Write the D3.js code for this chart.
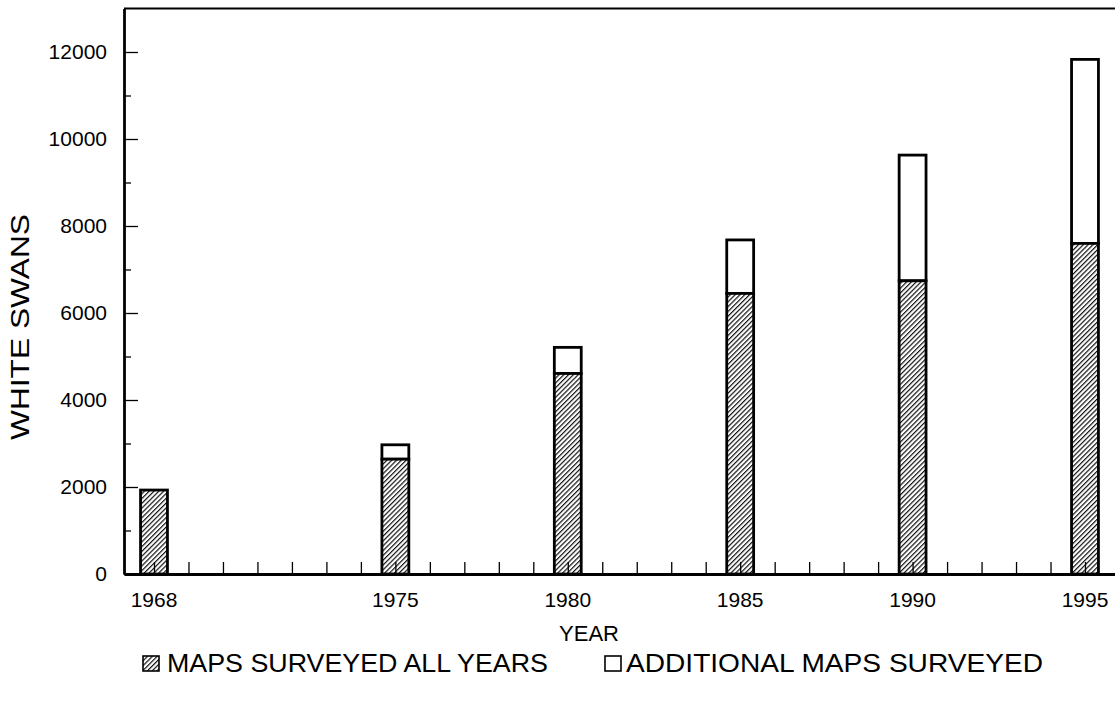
<!DOCTYPE html>
<html>
<head>
<meta charset="utf-8">
<script src="https://cdn.jsdelivr.net/npm/d3@7"></script>
<style>
  html, body { margin: 0; padding: 0; background: #fff; }
  svg { display: block; font-family: "Liberation Sans", Arial, Helvetica, sans-serif; }
</style>
</head>
<body>
<svg id="chart" width="1115" height="702"></svg>
<script>
// White swan counts by survey year
const years = [1968, 1975, 1980, 1985, 1990, 1995];
const mapsAllYears = [1930, 2640, 4610, 6450, 6740, 7600];
const additionalMaps = [0, 330, 600, 1230, 2890, 4230];
const yTicksMajor = [0, 2000, 4000, 6000, 8000, 10000, 12000];
const yTicksMinor = [1000, 3000, 5000, 7000, 9000, 11000];
const xLabelYears = [1968, 1975, 1980, 1985, 1990, 1995];
const seriesNames = ["MAPS SURVEYED ALL YEARS", "ADDITIONAL MAPS SURVEYED"];

(function () {
  const svg = d3.select("#chart");
  const plotLeft = 124, plotRight = 1115, plotTop = 8.5, plotBottom = 574;

  // hatch pattern for the base series
  const defs = svg.append("defs");
  const pat = defs.append("pattern")
    .attr("id", "hatch")
    .attr("patternUnits", "userSpaceOnUse")
    .attr("width", 3.4).attr("height", 3.4)
    .attr("patternTransform", "rotate(45)");
  pat.append("rect").attr("width", 3.4).attr("height", 3.4).attr("fill", "#fff");
  pat.append("line").attr("x1", 0.6).attr("y1", 0).attr("x2", 0.6).attr("y2", 3.4)
    .attr("stroke", "#111").attr("stroke-width", 1.2);

  const x = d3.scaleLinear().domain([1967.13, 1995.87]).range([plotLeft, plotRight]);
  const y = d3.scaleLinear().domain([0, 13000]).range([plotBottom, plotTop]);
  const barW = x(1968.78) - x(1968);

  const data = years.map((yr, i) => ({ year: yr, base: mapsAllYears[i], add: additionalMaps[i] }));

  // bars: additional (open) stacked on the base (hatched)
  const g = svg.append("g");
  g.selectAll("rect.add").data(data.filter(d => d.add > 0)).join("rect")
    .attr("class", "add")
    .attr("x", d => x(d.year) - barW / 2)
    .attr("width", barW)
    .attr("y", d => y(d.base + d.add))
    .attr("height", d => y(d.base) - y(d.base + d.add))
    .attr("fill", "#fff").attr("stroke", "#000").attr("stroke-width", 2.8);
  g.selectAll("rect.base").data(data).join("rect")
    .attr("class", "base")
    .attr("x", d => x(d.year) - barW / 2)
    .attr("width", barW)
    .attr("y", d => y(d.base))
    .attr("height", d => y(0) - y(d.base))
    .attr("fill", "url(#hatch)").attr("stroke", "#000").attr("stroke-width", 2.8);

  // x axis: yearly ticks pointing up
  const xAxis = d3.axisBottom(x)
    .tickValues(d3.range(1968, 1996))
    .tickSizeInner(-12).tickSizeOuter(0)
    .tickFormat("");
  const gx = svg.append("g").attr("transform", `translate(0,${plotBottom})`).call(xAxis);
  gx.select(".domain").attr("stroke-width", 2.8);
  gx.selectAll(".tick line").attr("stroke-width", 1.3);

  // x labels at survey years
  svg.append("g").selectAll("text").data(xLabelYears).join("text")
    .attr("x", d => x(d))
    .attr("y", 607)
    .attr("text-anchor", "middle")
    .attr("font-size", 21)
    .text(d => d);

  // y axis: major and minor ticks pointing right
  const yAxisMajor = d3.axisLeft(y).tickValues(yTicksMajor)
    .tickSizeInner(-14).tickSizeOuter(0).tickPadding(17)
    .tickFormat(d3.format("d"));
  const gy = svg.append("g").attr("transform", `translate(${plotLeft},0)`).call(yAxisMajor);
  gy.select(".domain").attr("stroke-width", 2.8);
  gy.selectAll(".tick line").attr("stroke-width", 1.3);
  gy.selectAll(".tick text").attr("font-size", 21).attr("fill", "#000")
    .attr("font-family", "'Liberation Sans', Arial, sans-serif");

  const yAxisMinor = d3.axisLeft(y).tickValues(yTicksMinor)
    .tickSizeInner(-7).tickSizeOuter(0).tickFormat("");
  const gym = svg.append("g").attr("transform", `translate(${plotLeft},0)`).call(yAxisMinor);
  gym.select(".domain").remove();
  gym.selectAll(".tick line").attr("stroke-width", 1.3);

  // top frame line
  svg.append("line")
    .attr("x1", plotLeft).attr("x2", plotRight)
    .attr("y1", y(13000)).attr("y2", y(13000))
    .attr("stroke", "#000").attr("stroke-width", 2.2);

  // axis titles
  svg.append("text")
    .attr("x", 589).attr("y", 641)
    .attr("text-anchor", "middle")
    .attr("font-size", 22)
    .text("YEAR");
  svg.append("text")
    .attr("transform", "translate(29,327) rotate(-90)")
    .attr("text-anchor", "middle")
    .attr("font-size", 26)
    .attr("textLength", 226).attr("lengthAdjust", "spacingAndGlyphs")
    .text("WHITE SWANS");

  // legend
  const legend = svg.append("g");
  const items = [
    { name: seriesNames[0], fill: "url(#hatch)", sx: 143, tx: 167, len: 381 },
    { name: seriesNames[1], fill: "#fff", sx: 605, tx: 626, len: 417 }
  ];
  items.forEach(it => {
    legend.append("rect")
      .attr("x", it.sx).attr("y", 656).attr("width", 16).attr("height", 15)
      .attr("fill", it.fill).attr("stroke", "#000").attr("stroke-width", 1.6);
    legend.append("text")
      .attr("x", it.tx).attr("y", 672)
      .attr("font-size", 25)
      .attr("textLength", it.len).attr("lengthAdjust", "spacingAndGlyphs")
      .text(it.name);
  });
})();
</script>
</body>
</html>
